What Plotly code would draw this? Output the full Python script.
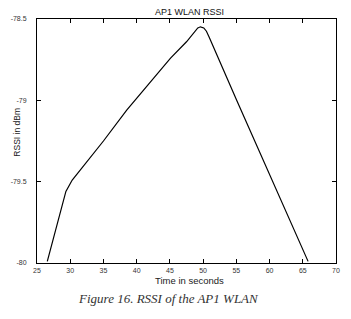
import plotly.graph_objects as go

# Data
time_s = [26.55, 29.35, 30.3, 32.3, 35.0, 38.5, 42.0, 45.1, 47.5, 49.2, 49.6,
          50.1, 50.5, 50.9, 55.05, 61.6, 65.8]
rssi_dbm = [-79.99, -79.56, -79.49, -79.39, -79.25, -79.06, -78.89, -78.74,
            -78.64, -78.555, -78.548, -78.555, -78.575, -78.61, -79.0, -79.6, -79.99]

x_ticks = [25, 30, 35, 40, 45, 50, 55, 60, 65, 70]
y_ticks = [-80, -79.5, -79, -78.5]
y_tick_labels = ["-80", "-79.5", "-79", "-78.5"]

fig = go.Figure()
fig.add_trace(go.Scatter(x=time_s, y=rssi_dbm, mode="lines",
                         line=dict(color="black", width=1.2), showlegend=False))

axis_common = dict(showline=True, linecolor="black", linewidth=1, mirror="ticks",
                   ticks="inside", ticklen=4, tickcolor="black", tickwidth=1,
                   showgrid=False, zeroline=False,
                   tickfont=dict(family="Arial, Liberation Sans", size=7, color="#333"))

fig.update_xaxes(range=[25, 70], tickvals=x_ticks, ticklabelstandoff=1, **axis_common)
fig.update_yaxes(range=[-80, -78.5], tickvals=y_ticks, ticktext=y_tick_labels,
                 ticklabelstandoff=8, **axis_common)

fig.update_layout(
    width=351, height=319,
    margin=dict(l=30, r=11, t=19, b=56),
    paper_bgcolor="white", plot_bgcolor="white",
    font=dict(family="Arial, Liberation Sans", color="black"),
    annotations=[
        dict(text="AP1 WLAN RSSI", xref="paper", yref="paper", x=0.51, y=1.03,
             xanchor="center", yanchor="middle", showarrow=False,
             font=dict(size=9, color="#111")),
        dict(text="RSSI in dBm", xref="paper", yref="paper", x=-0.068, y=0.537,
             xanchor="center", yanchor="middle", textangle=-90, showarrow=False,
             font=dict(size=8.5, color="#222")),
        dict(text="Time in seconds", xref="paper", yref="paper", x=0.51, y=-0.072,
             xanchor="center", yanchor="middle", showarrow=False,
             font=dict(size=9.5, color="#222")),
        dict(text="<i>Figure 16. RSSI of the AP1 WLAN</i>", xref="paper", yref="paper",
             x=0.439, y=-0.147, xanchor="center", yanchor="middle", showarrow=False,
             font=dict(family="Liberation Serif, DejaVu Serif", size=13, color="#333")),
    ],
)

fig.write_html("out.html", config={"displayModeBar": False},
               post_script="document.body.style.margin='0';")
